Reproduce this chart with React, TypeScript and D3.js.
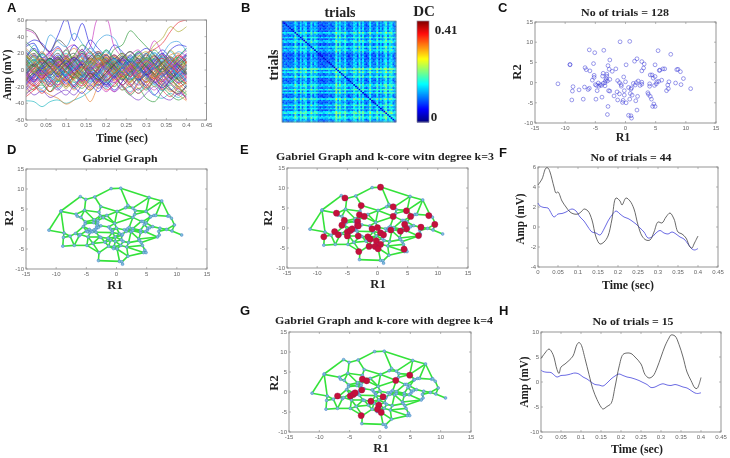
import React from "react";
import * as d3 from "d3";

// ---------- data ----------
const tickTimes = [0, 0.05, 0.1, 0.15, 0.2, 0.25, 0.3, 0.35, 0.4, 0.45];
const tickR = [-15, -10, -5, 0, 5, 10, 15];
const tickR2 = [-10, -5, 0, 5, 10, 15];
const tickA = [-60, -40, -20, 0, 20, 40, 60];
const tickF = [-4, -2, 0, 2, 4, 6];
const tickH = [-10, -5, 0, 5, 10];

const trialTimes = [0, 0.02, 0.04, 0.06, 0.08, 0.1, 0.12, 0.14, 0.16, 0.18, 0.2, 0.22, 0.24, 0.26, 0.28, 0.3, 0.32, 0.34, 0.36, 0.38, 0.4];
const trialColors = ["#2a2ae0", "#2e9a3c", "#e8343c", "#22b8c0", "#c838c0", "#a8a828", "#4a4a4a", "#e8863a", "#7a3ac8", "#3aa0e0"];
const trials: number[][] = [
  [28, 32, 15, 22, 42, 62, 35, 56, 30, 18, 12, 5, -3, 6, 12, 3, -5, 10, -2, 8, 12],
  [5, 12, -5, 8, 15, 2, 10, 20, 12, 18, 8, 25, 30, 47, 38, 28, 18, 8, 15, 5, 10],
  [0, -10, 5, -2, 8, 14, 6, 20, 10, 22, 15, 8, 12, -2, 6, 20, 25, 32, 46, 57, 60],
  [-37, -38, -44, -38, -36, -40, -36, -32, -25, -18, -22, -15, -24, -20, -28, -18, -30, -34, -28, -33, -25],
  [48, 44, 30, 20, 12, 25, 30, 15, 28, 62, 62, 28, 15, 5, 8, 15, 35, 20, 5, 0, -8],
  [-8, 5, -3, 10, 2, 15, -5, 8, 0, 12, 5, -8, 3, 10, -2, 15, 30, 38, 52, 46, 52],
  [50, 46, 30, 22, 36, 28, 12, 25, 5, 18, -2, 10, 2, -8, 4, -6, 8, 0, 12, 5, -4],
  [-12, -20, -24, -30, -34, -41, -36, -26, -38, -20, -12, -6, -18, -10, -22, -14, -8, -18, -24, -30, -37],
  [-20, -30, -25, -33, -28, -24, -30, -18, -10, -22, -15, -26, -20, -30, -36, -28, -20, -32, -36, -28, -32],
  [10, 30, 20, 42, 34, 28, 44, 32, 20, 35, 42, 38, 18, 10, 2, 12, 6, 18, 32, 34, 22],
  [30, 36, 32, 22, 28, 16, 30, 22, 36, 26, 18, 30, 22, 14, 20, 26, 18, 10, 24, 30, 28],
  [-28, -22, -18, -26, -12, -20, -8, -16, -4, -12, -18, -8, -20, -30, -22, -34, -38, -26, -18, -26, -20],
  [18, 4, -10, 6, 16, -4, 12, -8, 4, 14, 2, 16, 6, -8, 4, 12, -6, 8, -10, 2, 18],
  [-4, 10, 18, 2, -12, 6, -10, 12, 20, 4, -8, 6, 16, 2, -14, -2, 12, -6, 6, -12, -2],
  [12, -6, 8, 20, 6, -8, 4, -14, -2, 10, 18, 2, -12, 4, 14, -4, -16, 2, 14, 4, -10],
  [-14, 2, -12, -2, 10, 18, 2, 14, -6, -16, 2, 12, -4, -14, -2, 10, 4, -12, -2, 12, 6],
  [8, 18, 6, -6, 4, 14, 20, 6, -8, -2, 8, -6, -18, -6, 8, 18, 6, -4, -16, -8, 2],
  [-20, -8, 4, -10, -20, -8, 6, -6, -18, -8, 6, 16, 4, -8, 6, -10, -2, 10, -2, -16, -26],
  [22, 10, -2, -14, -4, 8, -6, -14, 2, 14, 4, -10, -2, 12, 20, 8, -8, -18, -8, 6, 16],
  [2, -14, -22, -8, 6, -6, -18, -4, 8, 20, 10, -4, 6, -10, -4, 8, -6, -16, -24, -14, -4],
  [-6, 8, 20, 10, -4, -16, -6, 10, 2, -10, -20, -10, 4, 16, 6, -6, 4, 16, 8, -6, -14],
  [14, 24, 12, 2, 14, 4, -10, 0, 14, 2, -12, -2, 10, 2, -14, -24, -12, 2, 12, 2, -6],
  [-16, -24, -12, 2, -8, -18, -6, 6, 14, 4, 16, 6, -6, -18, -8, 6, 16, 4, -8, -20, -14],
  [6, -4, -16, -4, 10, 20, 8, -4, -14, -6, 8, 18, 8, -6, 2, 14, 2, 12, 22, 10, -4],
  [-10, 2, 12, 22, 10, -2, 10, 18, 6, -8, -18, -26, -14, -2, 12, 2, -12, -22, -10, 4, 14],
  [16, 6, -8, -16, -6, 10, 2, -12, -20, -8, 4, -4, 10, 18, 6, -8, -20, -10, 4, -8, -18],
  [-2, -12, -2, 12, 20, 6, -6, 6, 16, 22, 8, -2, -12, -2, 10, 20, 8, 18, 4, -12, -22],
  [20, 12, 22, 8, -4, -14, -22, -10, 2, -6, -14, 2, 14, 4, -10, -18, -6, 8, 18, 20, 8],
  [-24, -14, -6, -16, -24, -12, 0, 10, -2, -14, -4, 10, -2, -16, -24, -12, 2, -10, -22, -30, -18],
  [4, 16, 6, -8, -18, -6, 8, 16, 6, 16, 6, -8, -18, -26, -14, -2, 10, 20, 6, -6, 4],
  [-18, -6, 6, 14, 2, -10, -20, -8, -16, -4, 10, 2, 12, 4, -8, -20, -30, -18, -6, 6, -4],
  [10, -2, -10, 2, 12, 24, 12, 22, 10, -2, -10, -20, -6, 8, 18, 6, -8, -20, -30, -36, -30],
  [-8, -18, -28, -16, -6, 6, -4, -14, -24, -12, 0, 12, 20, 8, -4, -14, -2, 6, -6, -16, -10],
  [24, 14, 4, 14, 24, 12, 2, -8, 4, 12, 22, 10, -4, -12, -2, 8, 20, 8, -6, 6, 18],
  [0, 8, -4, -18, -8, 4, 16, 24, 12, 0, -12, -4, 8, 18, 24, 12, 0, -12, 2, 14, 24],
  [-12, -2, 10, -2, -12, -22, -10, 4, -8, -18, -6, 6, -8, 2, 16, 22, 12, 2, -10, -22, -28],
  [12, 20, 8, -4, 8, 16, 4, -6, 10, 20, 12, 0, 14, 22, 10, -4, -14, -24, -12, -2, 10],
  [-26, -16, -4, 8, 0, -12, -24, -14, 0, 8, -2, -14, -24, -14, -6, 6, -6, -16, -26, -18, -8],
  [6, 18, 8, 18, 6, -6, 10, 20, 8, -4, 6, 18, 6, -8, -18, -10, 4, 14, 2, -8, 6],
  [-4, -16, -26, -14, -2, 8, -2, -12, 0, 10, 18, 6, -4, 10, 2, -10, -18, -6, 6, 16, 26],
  [16, 26, 14, 4, -8, 2, 14, 4, -8, -18, -8, 6, 14, 2, -12, 2, 14, 24, 14, 2, -6],
  [-14, -4, -16, -26, -14, -2, -14, -22, -10, 2, 14, 4, -6, 4, 14, 4, -8, 2, -10, -20, -30],
  [8, -4, 6, 16, 26, 14, 2, 12, 22, 10, 2, -10, -18, -28, -16, -4, 6, -4, 8, 18, 8],
  [2, 12, 2, -12, -22, -12, -22, -10, 4, 14, 24, 14, 2, 12, 22, 12, 0, -8, 2, -8, -20],
  [-30, -18, -8, 2, 14, 4, 16, 6, -6, -16, -26, -16, -6, 4, -6, -16, -24, -14, -4, 8, -6],
  [18, 8, 20, 10, -2, -12, -4, -16, -24, -14, -4, 8, 18, 8, -2, 8, 18, 8, 24, 12, 0],
  [-2, 6, -6, -20, -10, 0, 12, 2, 16, 6, 18, 6, -10, -20, -10, -22, -12, 2, -10, 2, 14],
  [26, 16, 4, -6, 4, 16, 26, 14, 4, 14, 2, -12, -2, 6, 16, 8, -4, -14, -4, 10, 2],
  [-22, -10, 0, -12, -22, -30, -18, -8, 4, -8, -18, -8, 2, -8, 4, -6, 8, -4, -16, -24, -34],
  [14, 0, -14, -4, 6, -6, 6, 18, 26, 14, 0, 14, 4, 18, 10, 20, 8, -2, 10, 22, 16],
  [-6, -14, 2, 14, 4, -10, -20, -28, -18, -26, -14, -24, -14, -2, -12, 0, 10, 20, 10, -2, -12],
  [34, 24, 14, 6, 16, 8, 18, 30, 22, 12, 24, 14, 20, 10, 22, 12, 24, 14, 2, 16, 26],
  [-32, -24, -14, -26, -18, -8, -20, -10, -22, -14, -24, -18, -8, -18, -28, -20, -10, -24, -32, -22, -36],
  [3, -5, 6, 12, 1, -7, 4, 11, 0, -9, 2, 9, -3, -11, -1, 7, 13, 3, -6, 5, 12],
  [-7, 2, -9, 1, 10, 3, -6, -13, -2, 6, 13, 4, -5, 3, 11, 1, -8, -14, -4, 7, -2],
  [10, 16, 5, -4, 7, -2, -11, -3, 8, 15, 6, -3, -10, -2, 6, 14, 5, -5, 3, 12, 4],
  [-11, -3, 7, 14, 4, 11, 2, -7, 3, -5, -13, -4, 5, 13, 3, -6, 1, 9, 16, 6, -5],
  [1, 9, 14, 5, -6, -12, -3, 5, 13, 7, -2, -12, -5, 4, -6, -15, -7, 3, -4, -12, -6],
  [-3, -12, -5, 6, 15, 7, 15, 6, -4, -13, -6, 3, 12, 6, -4, 4, 12, 2, -7, -15, -9],
  [15, 6, -4, 3, -7, 1, 9, 17, 8, 0, -9, -1, 8, -1, -11, -3, 6, 15, 7, -3, -12],
  [-15, -6, 2, -6, 3, 12, 5, -3, -11, -3, 7, 14, 6, -3, -12, -5, 3, -7, 1, 10, 18],
  [7, -2, 4, 13, 8, -1, -9, 1, 10, 3, 12, 5, -3, -12, -5, 5, 14, 4, -5, -12, -16],
  [-9, 1, 11, 4, -5, -13, -4, 3, -6, 3, 11, 2, -8, 1, 9, -2, -10, -3, 8, 17, 10],
  [4, 13, 3, -8, -14, -5, 3, 12, 4, -5, 3, 13, 5, 14, 5, -4, 4, -5, -14, -7, 1],
  [-5, -14, -7, 1, 9, 17, 8, -2, -10, 0, -8, -15, -6, 3, -7, 2, 11, 19, 9, 0, -8],
  [11, 2, -6, 2, 12, 4, -6, 2, 11, 17, 9, 1, -7, -15, -7, -15, -5, 4, 12, 4, -5],
  [-1, 7, -1, -9, -2, 8, 15, 6, -2, -11, -3, 7, 16, 8, -1, 9, 17, 7, -3, -10, 1],
  [9, -1, -11, -4, 5, 13, 5, -5, 3, 13, 19, 10, 1, -8, 2, 10, 2, -7, -15, -22, -14],
  [-13, -5, 3, 10, 1, -8, 1, 10, 18, 9, 1, -9, -1, 9, 1, -7, -15, -8, 0, 9, 20],
  [5, -3, -13, -6, -14, -5, 4, -5, -13, -6, 5, 12, 3, -5, 5, 13, 21, 11, 2, -6, -13],
  [-16, -8, 1, 9, 18, 9, -1, 7, -1, -9, -17, -7, 2, 11, 4, -6, -14, -21, -12, -3, 7],
  [13, 4, 12, 3, -5, 2, 10, -1, -9, 1, 9, 1, -11, -3, 7, 15, 7, -2, 7, 15, 5],
  [-10, -19, -10, -2, 6, -3, -12, -19, -9, 1, 10, 18, 9, -1, -9, -2, 7, 14, 5, -4, -17],
  [2, 11, 19, 11, 2, -7, -15, -7, 2, -7, -15, -6, 3, 12, 3, -8, -17, -25, -15, -5, 3],
  [-17, -9, -1, -10, -18, -9, 1, 9, 1, 7, -2, -10, -18, -9, 1, 11, 3, -5, 5, 13, 19],
  [17, 9, 0, 8, 1, 10, 17, 9, -1, 5, 15, 7, -2, 7, -2, -11, -2, 7, 15, 9, -3],
  [-4, 5, 13, 4, 13, 5, -4, -12, -4, -12, -3, 6, 14, 22, 13, 4, -5, -13, -23, -28, -20],
  [6, -3, -12, -20, -11, -20, -10, -1, 7, 14, 5, -3, 5, -4, -13, -21, -11, -2, 6, -2, 9],
];

const scatterR1 = [-11.2, -9.2, -9.2, -8.7, -8.8, -8.9, -7.7, -7, -6.8, -6.7, -6.5, -6.2, -6, -6, -5.9, -5.5, -5.3, -5.2, -5.2, -5.1, -5, -4.9, -4.8, -4.7, -4.5, -4.4, -4.2, -4, -3.9, -3.7, -3.7, -3.8, -3.6, -3.4, -3.4, -3.3, -3.2, -3.1, -3.1, -3, -3, -2.9, -2.9, -2.8, -2.7, -2.6, -2.6, -2.6, -2.2, -1.9, -1.6, -1.4, -1.3, -1.3, -1, -1, -0.9, -0.7, -0.7, -0.5, -0.4, -0.3, -0.2, -0.2, 0, 0.1, 0.1, 0.5, 0.5, 0.7, 0.7, 0.8, 0.9, 0.9, 1, 1, 1.1, 1.3, 1.5, 1.6, 1.7, 1.8, 1.9, 1.9, 2, 2.1, 2.4, 2.7, 2.7, 2.7, 2.7, 3, 3.1, 3.7, 3.8, 4, 4, 4.1, 4.1, 4.3, 4.4, 4.5, 4.6, 4.7, 4.8, 4.9, 4.9, 4.9, 5.1, 5.2, 5.4, 5.5, 5.6, 5.7, 6, 6.2, 6.5, 6.8, 7, 7.1, 7.2, 7.5, 8.3, 8.5, 8.7, 9.1, 9.2, 9.6, 10.8];
const scatterR2 = [-0.3, 4.4, 4.5, -1, -2.1, -4.3, -1.8, -4.1, -1.1, 3.7, 3.2, -1.7, -1.4, 8.1, 2.9, 0.6, 4.7, 1.8, 1.3, 7.4, -0.5, -4.1, -0.7, -2, -0.1, -0.9, -0.5, -0.7, -3.6, -0.2, 2.3, 1.6, 8, -0.8, 0, 0.5, 1, 1.6, 2.1, 0.4, -7.9, -5.9, 4.2, -2, 3.3, -2.1, 0.8, 5.6, 2.8, -3.3, 3.4, -2.3, 0.5, -4.3, -2.8, 0, 10.1, -0.5, -0.9, -4.9, -4.4, 1.4, -2, -3.1, 0.2, -5, 4.4, -1.2, -8.1, -4.1, 10.2, -2.7, -1.6, -8.2, -8.8, -1.3, -3.1, -0.2, 5.3, -0.6, -4.5, 0, 5.9, -6.8, -3.4, 0.4, -0.7, 0.1, -0.4, 5.2, 2.9, 3.6, 4.6, -2.5, -2.9, -0.3, -0.9, 1.9, -3.4, -4.1, 1.9, -5.9, 1.1, -5.3, -0.7, 4.4, -5.9, 1.5, -0.3, 0.2, 7.9, 0.3, 3, 3.1, 0.6, 3.4, 3.4, -2, -0.6, -1.5, 0.2, 7, -0.1, 3.2, 3.3, 2.7, -0.5, 1, -1.5];

const coreK3R1 = [0.5, -5.4, -2.7, 2.6, -6.8, 4.8, -3, -2.2, 2.6, 5.5, 8.5, -5.5, -5.9, -3.3, -3.3, -3.2, 9.5, 4.5, 4.8, 7.2, -0.9, 0, 2.2, 3.8, 6.8, -7.1, -6.5, -8.9, -5, -4.5, -4.2, -5, -3.2, -1.6, -1.2, 0.5, 1, -0.2, -1.4, -0.4, 0.5, 0.1, 4.4, -3.1];
const coreK3R2 = [10.2, 7.5, 5.6, 5.3, 3.7, 4.3, 3.3, 2.9, 2.9, 2.9, 3.1, 1.9, 0.7, 1.6, 0.7, 0.5, 0.9, 0.9, -0.2, 0.2, -0.2, 0.1, -0.5, -0.8, -1.9, -0.9, -1.7, -2.2, -1, -0.6, -0.2, -2, -2, -2.2, -2.8, -1.2, -1.7, -3.2, -4.6, -4.6, -4.1, -5.2, -5.3, -5.9];
const coreK4R1 = [4.9, 2.6, -2.9, -2.2, -3, -7, -4.9, -4.4, -4.1, -1.5, 0.5, -0.2, -0.4, 0.2, -3.1];
const coreK4R2 = [4.2, 2.9, 3.2, 2.8, 0.5, -1, -1, -0.6, -0.2, -2.3, -1.2, -3.3, -4.3, -5.1, -5.9];

const fBlackT = [0, 0.01, 0.02, 0.025, 0.03, 0.04, 0.045, 0.05, 0.06, 0.07, 0.08, 0.09, 0.1, 0.11, 0.115, 0.125, 0.135, 0.145, 0.155, 0.165, 0.175, 0.185, 0.195, 0.205, 0.21, 0.22, 0.23, 0.24, 0.25, 0.26, 0.27, 0.28, 0.29, 0.3, 0.31, 0.32, 0.33, 0.34, 0.35, 0.36, 0.37, 0.38, 0.385, 0.39, 0.4];
const fBlackV = [4.2, 4.8, 5.9, 5.9, 5.5, 4, 3.4, 3.5, 2.6, 2, 1.5, 1.3, 1.3, 1.6, 1.8, 1.6, 0.7, -1, -1.7, -1.5, -0.9, 0.8, 2.9, 2.6, 2.2, 2.9, 2.6, 1.8, 0.2, -0.9, -1.3, -1.3, -0.5, 0.5, 0.4, 1, 1.4, 0.8, -0.5, -0.7, -1.1, -2, -2.1, -1.7, -0.9];
const meanT = [0, 0.005, 0.015, 0.025, 0.03, 0.04, 0.05, 0.06, 0.07, 0.085, 0.095, 0.105, 0.115, 0.125, 0.135, 0.145, 0.155, 0.165, 0.175, 0.185, 0.195, 0.205, 0.215, 0.225, 0.235, 0.245, 0.255, 0.265, 0.275, 0.285, 0.295, 0.305, 0.315, 0.325, 0.335, 0.345, 0.355, 0.365, 0.375, 0.385, 0.392, 0.4];
const meanV = [2.4, 2.1, 1.95, 1.9, 1.6, 1, 1.3, 1.35, 1.5, 1.8, 1.6, 1, 0.6, 0, -0.5, -0.6, -0.8, -0.2, 0.6, 1.2, 1.6, 1.3, 1, 0.85, 0.6, 0.3, -0.1, -0.5, -1.1, -1, -0.6, -0.35, -0.6, -0.7, -0.5, -0.7, -1, -1.2, -1.7, -2.2, -2.3, -2.15];
const hBlackT = [0, 0.01, 0.02, 0.03, 0.04, 0.045, 0.05, 0.06, 0.07, 0.08, 0.09, 0.095, 0.1, 0.11, 0.12, 0.13, 0.14, 0.15, 0.155, 0.165, 0.175, 0.185, 0.195, 0.205, 0.215, 0.225, 0.235, 0.25, 0.26, 0.27, 0.28, 0.29, 0.3, 0.31, 0.32, 0.325, 0.335, 0.345, 0.355, 0.365, 0.375, 0.385, 0.39, 0.395, 0.4];
const hBlackV = [4.7, 5.8, 6.6, 5.5, 2.5, 1.7, 3, 3.6, 4.3, 5.2, 7.5, 7.9, 7.5, 4.7, 1.5, -1.5, -3.5, -5, -5.4, -4.9, -4.3, -1, 3, 5.5, 5.8, 5.7, 5, 3.6, 1.5, 0.8, 1.2, 2.8, 5, 7.2, 8.8, 9.4, 9.2, 7.5, 5, 2, 0.3, -1.2, -1.3, -0.5, 0.9];

// strength of each block of trials along the similarity matrix, read from its stripes
const stripeStrength = [0.05, 0.15, 0.1, 0.05, 0.1, 0.15, 0.1, 0.55, 0.2, 0.05, 0.45, 0.1, 0.4, 0.4, 0.05, 0.1, 0.5, 0.15, 0.35, 0.3, 0, 0, 0.05, 0, 0.05, 0.1, 0.15, 0.1, 0.1, 0.2, 0.7, 0.2, 0.55, 0.15, 0.2, 0.5, 0.1, 0.05, 0.1, 0.15, 0.45, 0.4, 0.1, 0.55, 0.15, 0.5, 0.1, 0.05, 0.1, 0.6, 0.15, 0.1, 0.15, 0.5, 0.1, 0.35, 0.1, 0.45, 0.6, 0.15, 0.45, 0.5, 0.2, 0.1];
const cellGrain = [
  [0.02, -0.03, 0.05, -0.01, 0.03],
  [-0.04, 0.04, -0.02, 0.03, -0.03],
  [0.03, -0.01, -0.05, 0.05, 0.01],
  [-0.02, 0.05, 0.02, -0.04, 0.03],
  [0.04, -0.03, 0.01, 0.02, -0.05],
];
const jetStops = ["#00007f", "#0000ff", "#007fff", "#00ffff", "#7fff7f", "#ffff00", "#ff7f00", "#ff0000", "#7f0000"];

// ---------- helpers ----------
const GREY = "#666";
const FRAME = "#8a8a8a";
const SERIF = "'Liberation Serif', serif";
const SANS = "'Liberation Sans', sans-serif";

type Box = { x0: number; x1: number; y0: number; y1: number };

function Frame({ box, xs, ys, xTicks, yTicks }: { box: Box; xs: any; ys: any; xTicks: number[]; yTicks: number[] }) {
  const t = 2;
  return (
    <g>
      <rect x={box.x0} y={box.y0} width={box.x1 - box.x0} height={box.y1 - box.y0} fill="none" stroke={FRAME} strokeWidth={0.9} />
      {xTicks.map((v) => (
        <g key={"x" + v}>
          <path d={`M${xs(v)},${box.y1}v${-t}M${xs(v)},${box.y0}v${t}`} stroke={FRAME} strokeWidth={0.6} />
          <text x={xs(v)} y={box.y1 + 7} textAnchor="middle" fontSize={6} fontFamily={SANS} fill={GREY}>{v}</text>
        </g>
      ))}
      {yTicks.map((v) => (
        <g key={"y" + v}>
          <path d={`M${box.x0},${ys(v)}h${t}M${box.x1},${ys(v)}h${-t}`} stroke={FRAME} strokeWidth={0.6} />
          <text x={box.x0 - 2} y={ys(v) + 2} textAnchor="end" fontSize={6} fontFamily={SANS} fill={GREY}>{v}</text>
        </g>
      ))}
    </g>
  );
}

function Label({ x, y, size, children, rotate, len }: any) {
  return (
    <text x={x} y={y} textAnchor="middle" fontFamily={SERIF} fontWeight="bold" fontSize={size} fill="#222"
      transform={rotate ? `rotate(-90 ${x} ${y})` : undefined}
      textLength={len} lengthAdjust={len ? "spacingAndGlyphs" : undefined}>
      {children}
    </text>
  );
}

function Letter({ x, y, children }: any) {
  return <text x={x} y={y} fontFamily={SANS} fontWeight="bold" fontSize={13} fill="#111">{children}</text>;
}

function scales(box: Box, xd: number[], yd: number[]) {
  return {
    xs: d3.scaleLinear().domain(xd).range([box.x0, box.x1]),
    ys: d3.scaleLinear().domain(yd).range([box.y1, box.y0]),
  };
}

// Gabriel graph of the points: i-j is an edge when no third point lies in the circle on diameter i-j
const gabrielEdges: [number, number][] = (() => {
  const out: [number, number][] = [];
  const n = scatterR1.length;
  for (let i = 0; i < n; i++) {
    for (let j = i + 1; j < n; j++) {
      let ok = true;
      for (let k = 0; k < n && ok; k++) {
        if (k === i || k === j) continue;
        const dot = (scatterR1[k] - scatterR1[i]) * (scatterR1[k] - scatterR1[j]) + (scatterR2[k] - scatterR2[i]) * (scatterR2[k] - scatterR2[j]);
        if (dot < -1e-9) ok = false;
      }
      if (ok) out.push([i, j]);
    }
  }
  return out;
})();

function GraphPanel({ box, coreR1, coreR2 }: { box: Box; coreR1?: number[]; coreR2?: number[] }) {
  const { xs, ys } = scales(box, [-15, 15], [-10, 15]);
  return (
    <g>
      <Frame box={box} xs={xs} ys={ys} xTicks={tickR} yTicks={tickR2} />
      {gabrielEdges.map(([i, j], e) => (
        <line key={e} x1={xs(scatterR1[i])} y1={ys(scatterR2[i])} x2={xs(scatterR1[j])} y2={ys(scatterR2[j])} stroke="#34e23a" strokeWidth={1.6} />
      ))}
      {scatterR1.map((r, i) => (
        <circle key={i} cx={xs(r)} cy={ys(scatterR2[i])} r={1.4} fill="#7fc4d8" stroke="#4a78d0" strokeWidth={0.5} />
      ))}
      {coreR1 && coreR1.map((r, i) => (
        <circle key={"c" + i} cx={xs(r)} cy={ys(coreR2![i])} r={3.1} fill="#c5103a" stroke="#a01050" strokeWidth={0.4} />
      ))}
    </g>
  );
}

function AveragePanel({ box, yd, yTicks, blackT, blackV }: { box: Box; yd: number[]; yTicks: number[]; blackT: number[]; blackV: number[] }) {
  const { xs, ys } = scales(box, [0, 0.45], yd);
  const line = d3.line<number>().x((t) => xs(t)).curve(d3.curveCatmullRom);
  return (
    <g>
      <Frame box={box} xs={xs} ys={ys} xTicks={tickTimes} yTicks={yTicks} />
      <path d={line.y((_, i) => ys(meanV[i]))(meanT) as string} fill="none" stroke="#5a5ae0" strokeWidth={0.9} />
      <path d={line.y((_, i) => ys(blackV[i]))(blackT) as string} fill="none" stroke="#444" strokeWidth={0.8} />
    </g>
  );
}

function PanelA({ box }: { box: Box }) {
  const { xs, ys } = scales(box, [0, 0.45], [-60, 60]);
  const line = d3.line<number>().x((t) => xs(t)).curve(d3.curveCatmullRom);
  return (
    <g>
      <clipPath id="clipA"><rect x={box.x0} y={box.y0} width={box.x1 - box.x0} height={box.y1 - box.y0} /></clipPath>
      <g clipPath="url(#clipA)">
        {trials.map((row, r) => (
          <path key={r} d={line.y((_, i) => ys(row[i]))(trialTimes) as string} fill="none" stroke={trialColors[r % trialColors.length]} strokeWidth={0.75} strokeOpacity={0.9} />
        ))}
      </g>
      <Frame box={box} xs={xs} ys={ys} xTicks={tickTimes} yTicks={tickA} />
    </g>
  );
}

function PanelB() {
  const box = { x0: 282, x1: 396, y0: 21, y1: 122 };
  const n = stripeStrength.length;
  const cx = d3.scaleLinear().domain([0, n]).range([box.x0, box.x1]);
  const cy = d3.scaleLinear().domain([0, n]).range([box.y0, box.y1]);
  const jet = d3.scaleLinear<string>().domain(jetStops.map((_, i) => i / (jetStops.length - 1))).range(jetStops).clamp(true);
  const cells: React.ReactNode[] = [];
  for (let i = 0; i < n; i++) {
    for (let j = 0; j < n; j++) {
      const t = i === j ? 0.09 : 0.17 + 0.3 * (stripeStrength[i] + stripeStrength[j]) + cellGrain[i % 5][j % 5];
      cells.push(<rect key={i + "-" + j} x={cx(j)} y={cy(i)} width={cx(1) - cx(0) + 0.3} height={cy(1) - cy(0) + 0.3} fill={jet(t)} />);
    }
  }
  const barY = d3.scaleLinear().domain([0, 1]).range([122, 21]);
  const steps = d3.range(0, 1, 1 / 100);
  return (
    <g>
      {cells}
      <rect x={box.x0} y={box.y0} width={box.x1 - box.x0} height={box.y1 - box.y0} fill="none" stroke="#7f9f8f" strokeWidth={0.8} />
      {steps.map((s) => (
        <rect key={s} x={417} y={barY(s + 0.01)} width={12} height={1.5} fill={jet(s)} />
      ))}
      <rect x={417} y={21} width={12} height={101} fill="none" stroke="#8a8a9a" strokeWidth={0.7} />
    </g>
  );
}

function PanelC({ box }: { box: Box }) {
  const { xs, ys } = scales(box, [-15, 15], [-10, 15]);
  return (
    <g>
      <Frame box={box} xs={xs} ys={ys} xTicks={tickR} yTicks={tickR2} />
      {scatterR1.map((r, i) => (
        <circle key={i} cx={xs(r)} cy={ys(scatterR2[i])} r={1.9} fill="none" stroke="#3c3cd8" strokeWidth={0.6} strokeOpacity={0.85} />
      ))}
    </g>
  );
}

export default function App() {
  return (
    <svg width={730} height={458} style={{ position: "fixed", left: 0, top: 0, background: "#fff", filter: "blur(0.35px)" }}>
      <PanelA box={{ x0: 26, x1: 206.5, y0: 20, y1: 120 }} />
      <Label x={11} y={75} size={12} rotate len={51}>Amp (mV)</Label>
      <Label x={122} y={142} size={12} len={52}>Time (sec)</Label>

      <PanelB />
      <Label x={340} y={17} size={14}>trials</Label>
      <Label x={278} y={65} size={14} rotate>trials</Label>
      <Label x={424} y={16} size={15}>DC</Label>
      <Label x={446} y={34} size={13}>0.41</Label>
      <Label x={434} y={121} size={13}>0</Label>

      <PanelC box={{ x0: 535, x1: 716, y0: 22, y1: 123 }} />
      <Label x={625} y={16} size={10.5} len={88}>No of trials = 128</Label>
      <Label x={623} y={141} size={12}>R1</Label>
      <Label x={521} y={72} size={12.5} rotate>R2</Label>

      <GraphPanel box={{ x0: 26, x1: 207, y0: 169, y1: 269 }} />
      <Label x={120} y={162} size={11} len={75}>Gabriel Graph</Label>
      <Label x={115} y={289} size={12.5}>R1</Label>
      <Label x={13} y={218} size={12.5} rotate>R2</Label>

      <GraphPanel box={{ x0: 287, x1: 468, y0: 168, y1: 268 }} coreR1={coreK3R1} coreR2={coreK3R2} />
      <Label x={385} y={160} size={10.5} len={218}>Gabriel Graph and k-core witn degree k=3</Label>
      <Label x={378} y={288} size={12.5}>R1</Label>
      <Label x={272} y={218} size={12.5} rotate>R2</Label>

      <AveragePanel box={{ x0: 538, x1: 718, y0: 167, y1: 267 }} yd={[-4, 6]} yTicks={tickF} blackT={fBlackT} blackV={fBlackV} />
      <Label x={631} y={161} size={10.5} len={81}>No of trials = 44</Label>
      <Label x={628} y={289} size={12} len={52}>Time (sec)</Label>
      <Label x={524} y={219} size={12} rotate len={51}>Amp (mV)</Label>

      <GraphPanel box={{ x0: 289, x1: 471, y0: 332, y1: 432 }} coreR1={coreK4R1} coreR2={coreK4R2} />
      <Label x={384} y={324} size={10.5} len={218}>Gabriel Graph and k-core with degree k=4</Label>
      <Label x={381} y={452} size={12.5}>R1</Label>
      <Label x={278} y={383} size={12.5} rotate>R2</Label>

      <AveragePanel box={{ x0: 541, x1: 721, y0: 332, y1: 432 }} yd={[-10, 10]} yTicks={tickH} blackT={hBlackT} blackV={hBlackV} />
      <Label x={633} y={325} size={10.5} len={81}>No of trials = 15</Label>
      <Label x={637} y={453} size={12} len={52}>Time (sec)</Label>
      <Label x={528} y={382} size={12} rotate len={51}>Amp (mV)</Label>

      <Letter x={7} y={12}>A</Letter>
      <Letter x={241} y={12}>B</Letter>
      <Letter x={498} y={12}>C</Letter>
      <Letter x={7} y={154}>D</Letter>
      <Letter x={240} y={154}>E</Letter>
      <Letter x={499} y={157}>F</Letter>
      <Letter x={240} y={315}>G</Letter>
      <Letter x={499} y={315}>H</Letter>
    </svg>
  );
}
